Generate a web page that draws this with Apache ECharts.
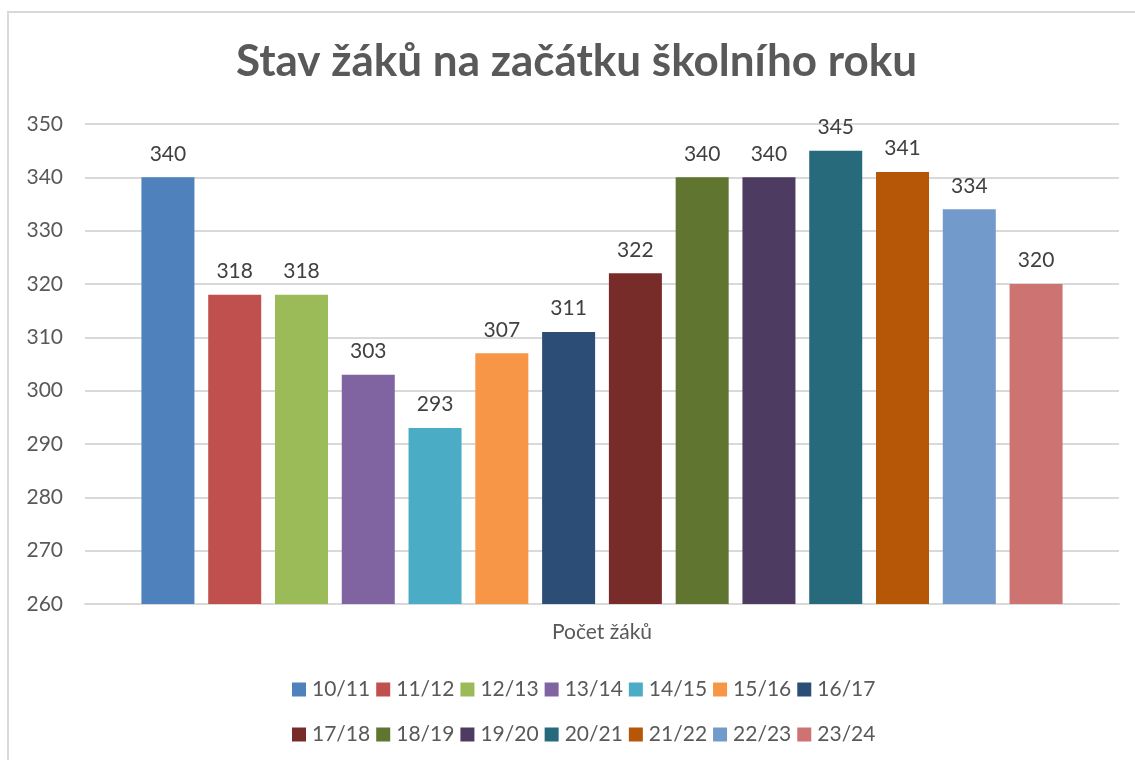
<!DOCTYPE html>
<html>
<head>
<meta charset="utf-8">
<script src="https://cdn.jsdelivr.net/npm/echarts@6/dist/echarts.min.js"></script>
<style>
  html, body { margin: 0; padding: 0; background: #fff; }
  #chart { width: 1135px; height: 760px; }
</style>
</head>
<body>
<div id="chart"></div>
<script>
const categories = ['Počet žáků'];
const years = ['10/11', '11/12', '12/13', '13/14', '14/15', '15/16', '16/17',
               '17/18', '18/19', '19/20', '20/21', '21/22', '22/23', '23/24'];
const pupils = [340, 318, 318, 303, 293, 307, 311, 322, 340, 340, 345, 341, 334, 320];
const colors = ['#4F81BD', '#C0504D', '#9BBB59', '#8064A2', '#4BACC6', '#F79646', '#2C4D75',
                '#772C2A', '#5F7530', '#4D3B62', '#276A7C', '#B65708', '#729ACA', '#CD7371'];

const font = 'Lato, "Open Sans", sans-serif';
const chart = echarts.init(document.getElementById('chart'));

// legend is two fixed rows of 7, like the original
const legendBase = {
  left: 287,
  orient: 'horizontal',
  icon: 'rect',
  itemWidth: 14,
  itemHeight: 14,
  itemGap: 6,
  selectedMode: false,
  textStyle: { color: '#595959', fontSize: 21, fontFamily: font, padding: [0, 0, 0, 1] }
};

chart.setOption({
  backgroundColor: '#fff',
  animation: false,
  color: colors,
  title: {
    text: 'Stav žáků na začátku školního roku',
    left: 231,
    top: 35,
    textStyle: { color: '#595959', fontSize: 44, fontWeight: 'bold', fontFamily: font }
  },
  graphic: [{
    type: 'rect',
    shape: { x: 8, y: 12, width: 1200, height: 800 },
    style: { fill: 'none', stroke: '#d9d9d9', lineWidth: 2 },
    silent: true
  }],
  legend: [
    Object.assign({}, legendBase, { top: 674, data: years.slice(0, 7) }),
    Object.assign({}, legendBase, { top: 719, data: years.slice(7) })
  ],
  grid: { left: 85, right: 16, top: 124, bottom: 156 },
  xAxis: {
    type: 'category',
    data: categories,
    axisLine: { lineStyle: { color: '#d9d9d9', width: 2 } },
    axisTick: { show: false },
    axisLabel: { color: '#595959', fontSize: 21, fontFamily: font, margin: 18 }
  },
  yAxis: {
    type: 'value',
    min: 260,
    max: 350,
    interval: 10,
    axisLine: { show: false },
    axisTick: { show: false },
    axisLabel: { color: '#595959', fontSize: 21, fontFamily: font, margin: 22 },
    splitLine: { lineStyle: { color: '#d9d9d9', width: 2 } }
  },
  series: years.map((y, i) => ({
    type: 'bar',
    name: y,
    data: [pupils[i]],
    barWidth: 53,
    barGap: '26%',
    itemStyle: { color: colors[i] },
    label: {
      show: true,
      position: 'top',
      distance: 13,
      color: '#404040',
      fontSize: 21,
      fontFamily: font
    }
  }))
});
</script>
</body>
</html>
